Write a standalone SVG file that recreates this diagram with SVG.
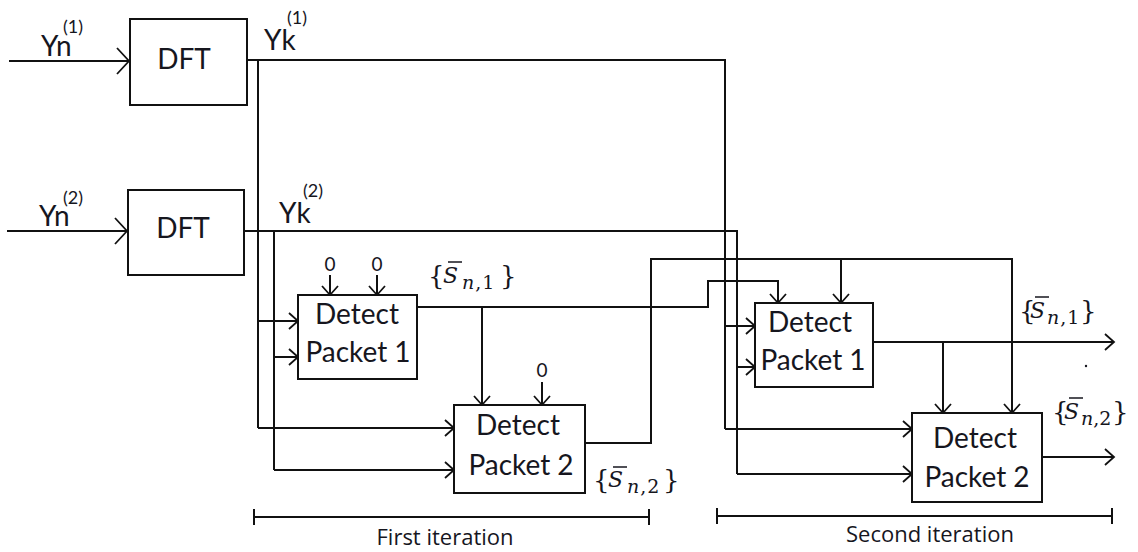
<svg xmlns="http://www.w3.org/2000/svg" width="1138" height="552" viewBox="0 0 1138 552">
<style>
.box{fill:#fff;stroke:#111;stroke-width:2}
.ln{fill:none;stroke:#111;stroke-width:2}
.arr{marker-end:url(#ah)}
.arrB{marker-end:url(#ahB)}
.lbl{font-family:Lato,"Open Sans",sans-serif;font-size:28px;fill:#16161e;text-anchor:middle}
.sig{font-family:Lato,"Open Sans",sans-serif;font-size:28px;fill:#16161e}
.sup{font-family:Lato,"Open Sans",sans-serif;font-size:18px;fill:#16161e}
.zero{font-family:Lato,"Open Sans",sans-serif;font-size:19px;fill:#16161e;text-anchor:middle}
.it{font-family:"Open Sans",Lato,sans-serif;font-size:22px;fill:#16161e;text-anchor:middle}
.m{font-family:"DejaVu Serif","Liberation Serif",serif;font-size:26px;fill:#16161e}
.mi{font-family:"DejaVu Serif","Liberation Serif",serif;font-size:22px;font-style:italic;fill:#16161e}
.ms{font-family:"DejaVu Serif","Liberation Serif",serif;font-size:19px;fill:#16161e;letter-spacing:1px}
.ov{stroke:#16161e;stroke-width:1.5}
</style>
<defs>
<marker id="ah" markerUnits="userSpaceOnUse" markerWidth="14" markerHeight="20" refX="10" refY="9" orient="auto">
<path d="M1,1 L10,9 L1,17" fill="none" stroke="#111" stroke-width="1.8"/>
</marker>
<marker id="ahB" markerUnits="userSpaceOnUse" markerWidth="16" markerHeight="30" refX="13" refY="14" orient="auto">
<path d="M1,1 L13,14 L1,27" fill="none" stroke="#111" stroke-width="1.8"/>
</marker>
</defs>

<g id="connectors">
<path class="ln arrB" d="M9,61 H129"/>
<path class="ln arrB" d="M7,231 H127"/>
<path class="ln" d="M247,60 H725 V429"/>
<path class="ln arr" d="M725,326 H755"/>
<path class="ln arr" d="M725,429 H912"/>
<path class="ln" d="M258,60 V428"/>
<path class="ln arr" d="M258,321 H298"/>
<path class="ln arr" d="M258,428 H454"/>
<path class="ln" d="M245,231 H737 V474"/>
<path class="ln arr" d="M737,367 H755"/>
<path class="ln arr" d="M737,474 H912"/>
<path class="ln" d="M274,231 V470"/>
<path class="ln arr" d="M274,357 H298"/>
<path class="ln arr" d="M274,470 H454"/>
<path class="ln arr" d="M330,275 V295"/>
<path class="ln arr" d="M377,275 V295"/>
<path class="ln arr" d="M542,382 V405"/>
<path class="ln arr" d="M417,307 H708 V281 H778 V303"/>
<path class="ln arr" d="M482,307 V405"/>
<path class="ln arr" d="M585,443 H651 V259 H1012 V413"/>
<path class="ln arr" d="M841,259 V303"/>
<path class="ln arr" d="M873,342 H1114"/>
<path class="ln arr" d="M943,342 V413"/>
<path class="ln arr" d="M1042,457 H1114"/>
<path class="ln" d="M254,517 H649 M254,509 V525 M649,509 V525"/>
<path class="ln" d="M717,516 H1112 M717,508 V524 M1112,508 V524"/>
</g>

<g id="dft1">
<rect class="box" x="130" y="19" width="117" height="86"/>
<text class="lbl" x="184" y="69">DFT</text>
</g>
<g id="dft2">
<rect class="box" x="128" y="190" width="116" height="85"/>
<text class="lbl" x="183" y="238">DFT</text>
</g>
<g id="dp1a">
<rect class="box" x="298" y="295" width="119" height="84"/>
<text class="lbl" x="357" y="324">Detect</text>
<text class="lbl" x="358" y="362">Packet 1</text>
</g>
<g id="dp2a">
<rect class="box" x="454" y="405" width="131" height="88"/>
<text class="lbl" x="518" y="435">Detect</text>
<text class="lbl" x="521" y="475">Packet 2</text>
</g>
<g id="dp1b">
<rect class="box" x="755" y="303" width="118" height="84"/>
<text class="lbl" x="810" y="332">Detect</text>
<text class="lbl" x="813" y="370">Packet 1</text>
</g>
<g id="dp2b">
<rect class="box" x="912" y="413" width="130" height="89"/>
<text class="lbl" x="975" y="448">Detect</text>
<text class="lbl" x="977" y="487">Packet 2</text>
</g>

<g id="labels">
<text class="sig" x="41" y="56">Yn</text><text class="sup" x="63" y="33">(1)</text>
<text class="sig" x="39" y="226">Yn</text><text class="sup" x="63" y="204">(2)</text>
<text class="sig" x="264" y="50">Yk</text><text class="sup" x="287" y="24">(1)</text>
<text class="sig" x="279" y="223">Yk</text><text class="sup" x="303" y="197">(2)</text>
<text class="zero" x="330" y="271">0</text>
<text class="zero" x="377" y="271">0</text>
<text class="zero" x="542" y="377">0</text>
<text class="it" x="445" y="545">First iteration</text>
<text class="it" x="930" y="542">Second iteration</text>
</g>

<g id="sn1a">
<text class="m" x="428" y="285">{</text><text class="mi" x="443" y="283">S</text>
<line class="ov" x1="448" y1="262" x2="462" y2="262"/>
<text class="ms" x="462" y="289"><tspan font-style="italic">n</tspan>,1</text>
<text class="m" x="500" y="285">}</text>
</g>
<g id="sn2a">
<text class="m" x="593" y="489">{</text><text class="mi" x="608" y="487">S</text>
<line class="ov" x1="613" y1="467" x2="627" y2="467"/>
<text class="ms" x="627" y="493"><tspan font-style="italic">n</tspan>,2</text>
<text class="m" x="663" y="489">}</text>
</g>
<g id="sn1b">
<text class="m" x="1019" y="320">{</text><text class="mi" x="1030" y="318">S</text>
<line class="ov" x1="1035" y1="297" x2="1049" y2="297"/>
<text class="ms" x="1047" y="324"><tspan font-style="italic">n</tspan>,1</text>
<text class="m" x="1080" y="320">}</text>
</g>
<g id="sn2b">
<text class="m" x="1052" y="421">{</text><text class="mi" x="1064" y="419">S</text>
<line class="ov" x1="1069" y1="398" x2="1083" y2="398"/>
<text class="ms" x="1081" y="425" style="letter-spacing:0"><tspan font-style="italic">n</tspan>,2</text>
<text class="m" x="1112" y="421">}</text>
</g>
<circle cx="1086" cy="366" r="1.2" fill="#16161e"/>
</svg>
